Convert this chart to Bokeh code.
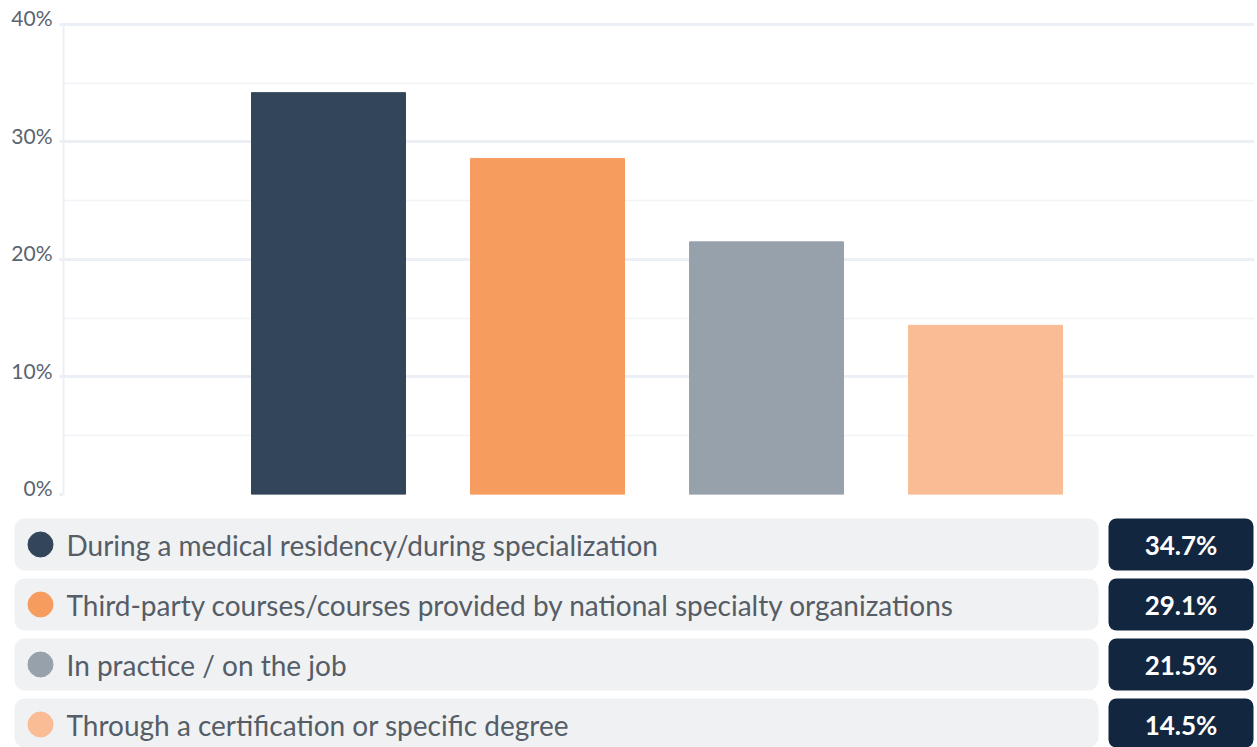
from bokeh.plotting import figure
from bokeh.models import (Range1d, FixedTicker, ColumnDataSource, CustomJSTickFormatter,
                          LinearAxis)
from bokeh.embed import file_html
from bokeh.resources import INLINE
from bokeh.core.properties import value

categories = [
    "During a medical residency/during specialization",
    "Third-party courses/courses provided by national specialty organizations",
    "In practice / on the job",
    "Through a certification or specific degree",
]
bar_values = [34.2, 28.6, 21.5, 14.4]          # heights
value_labels = ["34.7%", "29.1%", "21.5%", "14.5%"]  # printed in the table
colors = ["#324559", "#f69c5f", "#97a1ab", "#f9bc95"]
y_ticks = [0, 10, 20, 30, 40]
y_minor = [5, 15, 25, 35]

FONT = "Lato"
W = 1257
H1 = 506
H2 = 747 - H1
PX_PER_UNIT = 470.5 / 40.0
LABEL_SHIFT = 7 / PX_PER_UNIT   # tick labels sit a little above their gridline

# ---------- chart ----------
xs = list(range(len(categories)))
src = ColumnDataSource(dict(x=xs, top=bar_values, color=colors, name=categories))

p = figure(width=W, height=H1, output_backend="svg", toolbar_location=None,
           x_range=Range1d(-1.21, 4.228), y_range=Range1d(0, 40 + LABEL_SHIFT),
           min_border_left=63, min_border_right=3, min_border_top=17, min_border_bottom=12)
p.vbar(x="x", top="top", bottom=0, width=0.703, color="color", source=src)
p.xaxis.visible = False
p.xgrid.visible = False
p.outline_line_color = None
p.background_fill_color = "white"
p.border_fill_color = "white"

ax = p.yaxis[0]
ax.ticker = FixedTicker(ticks=y_ticks, minor_ticks=y_minor)
ax.formatter = CustomJSTickFormatter(code="return '';")
ax.bounds = (0, 40)
ax.axis_line_color = "#eceff6"
ax.axis_line_width = 2
ax.major_tick_line_color = "#eceff6"
ax.major_tick_line_width = 3
ax.major_tick_out = 4
ax.major_tick_in = 0
ax.minor_tick_line_color = None
ax.major_label_standoff = 0

p.extra_y_ranges = {"lab": Range1d(-LABEL_SHIFT, 40)}
lab = LinearAxis(y_range_name="lab", ticker=FixedTicker(ticks=y_ticks),
                 formatter=CustomJSTickFormatter(code="return tick + '%';"))
lab.axis_line_color = None
lab.major_tick_line_color = None
lab.minor_tick_line_color = None
lab.major_label_standoff = 1
lab.major_label_text_font = FONT
lab.major_label_text_font_size = "21px"
lab.major_label_text_color = "#5a636e"
p.add_layout(lab, "left")

p.ygrid.grid_line_color = "#eceff6"
p.ygrid.grid_line_width = 3
p.ygrid.minor_grid_line_color = "#f1f3f8"
p.ygrid.minor_grid_line_width = 1.5

# ---------- legend table ----------
rows = list(range(len(categories)))
lsrc = ColumnDataSource(dict(y=rows, name=categories, color=colors, lab=value_labels))
top_off = 38 / 60.0
q = figure(width=W, height=H2, output_backend="svg", toolbar_location=None,
           x_range=Range1d(0, W), y_range=Range1d(-top_off + H2 / 60.0, -top_off),
           x_axis_type=None, y_axis_type=None,
           min_border_left=0, min_border_right=0, min_border_top=0, min_border_bottom=0)
q.outline_line_color = None
q.xgrid.visible = False
q.ygrid.visible = False

q.hbar(y="y", left=14, right=1098, height=52 / 60.0, fill_color="#f0f1f3",
       line_color=None, border_radius=10, source=lsrc)
q.hbar(y="y", left=1108, right=1253, height=52 / 60.0, fill_color="#13263f",
       line_color=None, border_radius=8, source=lsrc)
q.scatter(x=40, y="y", size=25, color="color", source=lsrc)
q.text(x=66, y="y", text="name", text_font=value(FONT), text_font_size="28px",
       text_color="#555d66", text_baseline="middle", text_align="left", source=lsrc)
q.text(x=1180.5, y="y", text="lab", text_font=value(FONT), text_font_size="26px",
       text_font_style="bold", text_color="white", text_baseline="middle",
       text_align="center", source=lsrc)

open("out.html", "w").write(file_html([p, q], INLINE))
